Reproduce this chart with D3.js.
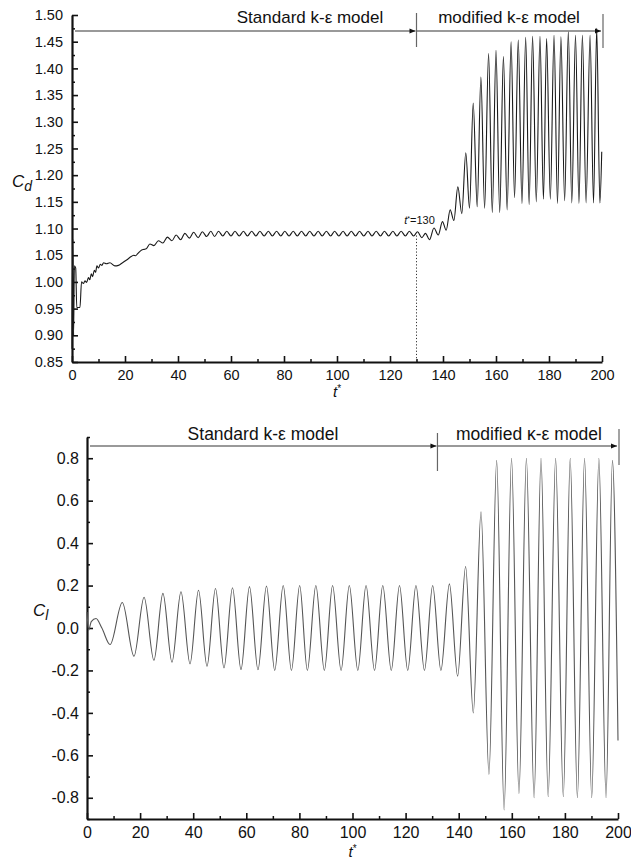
<!DOCTYPE html>
<html>
<head>
<meta charset="utf-8">
<script src="https://cdn.jsdelivr.net/npm/d3@7"></script>
<style>
  body { margin: 0; background: #fff; }
  text { font-family: "Liberation Sans", Arial, sans-serif; fill: #111; }
</style>
</head>
<body>
<svg id="chart" width="631" height="860"></svg>
<script>
// ---- Drag coefficient Cd (turning points of the time history) ----
const cdEarly = [
  [0,0.875],[0.3,1.08],[0.6,0.90],[0.9,1.03],[1.4,1.026],[1.8,0.952],[3.0,0.952],[3.6,1.0],
  [4.3,0.997],[4.9,1.002],[5.5,0.999],[6.2,1.008],[6.7,1.004],[7.3,1.015],[7.8,1.010],[8.4,1.022],
  [8.9,1.018],[9.4,1.030],[10.0,1.026],[10.7,1.033],[11.3,1.031],[11.9,1.036],[13.0,1.034],[14.3,1.036],
  [16.2,1.030],[17.5,1.031],[18.8,1.035],[20.6,1.041],[22.5,1.048],[23.3,1.050],[24.0,1.049],[24.8,1.053],
  [26.3,1.060],[27.2,1.061],[28.0,1.062],[29.4,1.071],[30.9,1.068],[32.6,1.077],[34.3,1.073],[36.0,1.084],
  [37.7,1.077],[39.3,1.088],[41.0,1.079],[42.6,1.091],[44.3,1.082],[45.9,1.093],[47.6,1.083],[49.2,1.094],
  [50.8,1.085],[52.4,1.095],[53.8,1.085]
];
const cdStandard = [
  [55.3,1.095],[56.9,1.086],[58.4,1.095],[60.0,1.086],[61.5,1.095],[63.1,1.086],[64.7,1.095],[66.2,1.086],
  [67.8,1.095],[69.4,1.086],[70.9,1.095],[72.5,1.086],[74.1,1.095],[75.6,1.086],[77.2,1.095],[78.8,1.086],
  [80.3,1.095],[81.9,1.086],[83.5,1.095],[85.0,1.086],[86.6,1.095],[88.2,1.086],[89.7,1.095],[91.3,1.086],
  [92.9,1.095],[94.4,1.086],[96.0,1.095],[97.6,1.086],[99.1,1.095],[100.7,1.086],[102.3,1.095],[103.8,1.086],
  [105.4,1.095],[107.0,1.086],[108.5,1.095],[110.1,1.086],[111.7,1.095],[113.2,1.086],[114.8,1.095],[116.4,1.086],
  [117.9,1.095],[119.5,1.086],[121.1,1.095],[122.6,1.086],[124.2,1.095],[125.8,1.086],[127.3,1.095],[128.9,1.086],
  [130.4,1.094]
];
const cdModified = [
  [132.0,1.083],[133.4,1.091],[134.9,1.079],[136.6,1.101],[138.2,1.088],[139.8,1.113],[141.2,1.097],[142.7,1.135],
  [144.1,1.115],[145.6,1.178],[147.1,1.128],[148.6,1.242],[150.0,1.138],[151.4,1.335],[152.9,1.141],[154.3,1.384],
  [155.7,1.138],[157.2,1.428],[158.6,1.130],[160.0,1.434],[161.4,1.130],[162.8,1.422],[164.2,1.135],[165.7,1.450],
  [167.0,1.158],[168.4,1.453],[169.8,1.147],[171.2,1.458],[172.5,1.145],[173.8,1.460],[175.2,1.150],[176.6,1.460],
  [177.9,1.155],[179.1,1.456],[180.5,1.155],[181.9,1.462],[183.2,1.147],[184.5,1.459],[185.9,1.152],[187.3,1.469],
  [188.6,1.148],[190.0,1.462],[191.3,1.147],[192.6,1.462],[194.0,1.148],[195.5,1.462],[196.8,1.148],[198.0,1.475],
  [199.2,1.148],[199.9,1.244]
];

// ---- Lift coefficient Cl (turning points of the time history) ----
const clStandard = [
  [0,0.075],[0.6,-0.01],[1.6,0.03],[3.4,0.045],[5.6,0.0],[8.7,-0.078],[13.3,0.12],[17.7,-0.133],
  [21.5,0.145],[25.2,-0.152],[28.6,0.163],[32.0,-0.161],[35.4,0.171],[38.8,-0.169],[42.0,0.178],[45.2,-0.18],
  [48.4,0.186],[51.6,-0.188],[54.8,0.19],[58.0,-0.196],[61.2,0.195],[64.4,-0.197],[67.6,0.198],[70.7,-0.2],
  [73.9,0.2],[77.0,-0.2],[80.1,0.2],[83.0,-0.2],[86.2,0.2],[89.4,-0.2],[92.5,0.2],[95.7,-0.2],
  [98.8,0.2],[102.0,-0.2],[105.1,0.2],[108.3,-0.2],[111.4,0.2],[114.6,-0.2],[117.7,0.2],[120.8,-0.2],
  [123.9,0.2],[127.1,-0.2],[130.2,0.2],[133.3,-0.2]
];
const clModified = [
  [136.5,0.208],[139.6,-0.227],[142.6,0.29],[145.5,-0.40],[148.4,0.548],[151.4,-0.69],[154.3,0.79],[157.1,-0.857],
  [159.9,0.80],[162.7,-0.78],[165.5,0.80],[168.4,-0.80],[171.0,0.80],[173.7,-0.795],[176.5,0.80],[179.4,-0.795],
  [182.0,0.80],[184.7,-0.80],[187.4,0.80],[190.1,-0.80],[192.8,0.80],[195.5,-0.80],[197.9,0.79],[200,-0.53]
];

// ---- Axis ticks and labels ----
const xTicks = [0,20,40,60,80,100,120,140,160,180,200];
const xMinor = [10,30,50,70,90,110,130,150,170,190];
const cdTicks = [0.85,0.90,0.95,1.00,1.05,1.10,1.15,1.20,1.25,1.30,1.35,1.40,1.45,1.50];
const cdMinor = [0.875,0.925,0.975,1.025,1.075,1.125,1.175,1.225,1.275,1.325,1.375,1.425,1.475];
const clTicks = [-0.8,-0.6,-0.4,-0.2,0.0,0.2,0.4,0.6,0.8];
const clMinor = [-0.9,-0.7,-0.5,-0.3,-0.1,0.1,0.3,0.5,0.7,0.9];
const topPhases = ["Standard k-\u03b5 model", "modified k-\u03b5 model"];
const bottomPhases = ["Standard k-\u03b5 model", "modified \u03ba-\u03b5 model"];
const topSwitch = 130;
const bottomSwitch = 132;

const svg = d3.select("#chart");

// arrow head marker
svg.append("defs").append("marker")
  .attr("id", "head").attr("viewBox", "0 0 10 10")
  .attr("refX", 10).attr("refY", 5)
  .attr("markerWidth", 8).attr("markerHeight", 6)
  .attr("markerUnits", "userSpaceOnUse")
  .attr("orient", "auto")
  .append("path").attr("d", "M0,1L10,5L0,9Z").attr("fill", "#111");

function drawPanel(o) {
  const g = svg.append("g");
  const x = o.x, y = o.y;
  const [x0, x1] = x.range();
  const [yb, yt] = y.range();

  // minor ticks
  g.append("g").attr("transform", `translate(0,${yb})`)
    .call(d3.axisBottom(x).tickValues(xMinor).tickSizeInner(-3).tickSizeOuter(0).tickFormat(""))
    .call(a => a.select(".domain").remove())
    .call(a => a.selectAll("line").attr("stroke", "#111").attr("stroke-width", 1.5));
  g.append("g").attr("transform", `translate(${x0},0)`)
    .call(d3.axisLeft(y).tickValues(o.yMinor).tickSizeInner(-3).tickSizeOuter(0).tickFormat(""))
    .call(a => a.select(".domain").remove())
    .call(a => a.selectAll("line").attr("stroke", "#111").attr("stroke-width", 1.5));

  // major x axis
  g.append("g").attr("transform", `translate(0,${yb})`)
    .call(d3.axisBottom(x).tickValues(xTicks).tickSizeInner(-6).tickSizeOuter(0).tickPadding(o.xPad))
    .call(a => a.select(".domain").attr("stroke", "#111").attr("stroke-width", 2))
    .call(a => a.selectAll("line").attr("stroke", "#111").attr("stroke-width", 1.6))
    .call(a => a.selectAll("text").attr("font-size", o.fs).attr("fill", "#111")
      .attr("font-family", '"Liberation Sans", Arial, sans-serif'));

  // major y axis
  g.append("g").attr("transform", `translate(${x0},0)`)
    .call(d3.axisLeft(y).tickValues(o.yTicks).tickSizeInner(-6).tickSizeOuter(0)
      .tickPadding(o.yPad).tickFormat(o.yFmt))
    .call(a => a.select(".domain").attr("stroke", "#111").attr("stroke-width", 2.2))
    .call(a => a.selectAll("line").attr("stroke", "#111").attr("stroke-width", 1.6))
    .call(a => a.selectAll("text").attr("font-size", o.fs).attr("fill", "#111")
      .attr("font-family", '"Liberation Sans", Arial, sans-serif'));

  // data line
  const line = d3.line().x(d => x(d[0])).y(d => y(d[1])).curve(d3.curveMonotoneX);
  g.append("path").datum(o.data).attr("d", line)
    .attr("fill", "none").attr("stroke", o.stroke).attr("stroke-width", o.sw)
    .attr("stroke-linejoin", "round");

  // phase arrows
  const xs = x(o.switchAt);
  const ay = o.arrowY;
  g.append("line").attr("x1", x0 + 3).attr("x2", xs - 1).attr("y1", ay).attr("y2", ay)
    .attr("stroke", "#777").attr("stroke-width", 1.4).attr("marker-end", "url(#head)");
  g.append("line").attr("x1", xs).attr("x2", x1 - 1).attr("y1", ay).attr("y2", ay)
    .attr("stroke", "#777").attr("stroke-width", 1.4).attr("marker-end", "url(#head)");
  g.append("line").attr("x1", xs).attr("x2", xs).attr("y1", o.bar1[0]).attr("y2", o.bar1[1])
    .attr("stroke", "#666").attr("stroke-width", 1.2);
  g.append("line").attr("x1", x1 + 1).attr("x2", x1 + 1).attr("y1", o.bar2[0]).attr("y2", o.bar2[1])
    .attr("stroke", "#666").attr("stroke-width", 1.2);
  g.append("text").attr("x", o.label1X).attr("y", o.labelY).attr("text-anchor", "middle")
    .attr("font-size", o.phaseFs).text(o.phases[0]);
  g.append("text").attr("x", o.label2X).attr("y", o.labelY).attr("text-anchor", "middle")
    .attr("font-size", o.phaseFs).text(o.phases[1]);

  // x axis title t*
  const tt = g.append("text").attr("x", (x0 + x1) / 2).attr("y", o.titleY)
    .attr("text-anchor", "middle").attr("font-size", 15);
  tt.append("tspan").attr("font-style", "italic").text("t");
  tt.append("tspan").attr("font-size", 10).attr("dy", -5).text("*");

  // y axis title
  const yt2 = g.append("text").attr("x", o.yTitle[0]).attr("y", o.yTitle[1]).attr("font-size", 17);
  yt2.append("tspan").attr("font-style", "italic").text("C");
  yt2.append("tspan").attr("font-style", "italic").attr("font-size", 14).attr("dy", 4).text(o.sub);
  return g;
}

const xTop = d3.scaleLinear().domain([0, 200]).range([72, 602]);
const yTop = d3.scaleLinear().domain([0.85, 1.50]).range([362, 15]);
const dragPanel = drawPanel({
  x: xTop, y: yTop, data: cdEarly.concat(cdStandard, cdModified),
  yTicks: cdTicks, yMinor: cdMinor, yFmt: d => d.toFixed(2),
  fs: 14.5, xPad: 8, yPad: 9, stroke: "#1a1a1a", sw: 1.1,
  switchAt: topSwitch, arrowY: 31, bar1: [13, 47], bar2: [14, 48],
  phases: topPhases, label1X: 310, label2X: 509, labelY: 23, phaseFs: 17,
  titleY: 397, yTitle: [12, 187], sub: "d"
});

// marker for the switch time on the drag history
dragPanel.append("line").attr("x1", xTop(topSwitch)).attr("x2", xTop(topSwitch))
  .attr("y1", yTop(1.087)).attr("y2", yTop(0.85))
  .attr("stroke", "#333").attr("stroke-width", 1).attr("stroke-dasharray", "1.2,2");
const ann = dragPanel.append("text").attr("x", xTop(topSwitch) + 3).attr("y", 224)
  .attr("text-anchor", "middle").attr("font-size", 11);
ann.append("tspan").attr("font-style", "italic").text("t");
ann.append("tspan").attr("font-size", 7).attr("dy", -3).text("*");
ann.append("tspan").attr("dy", 3).text("=" + topSwitch);

const xBot = d3.scaleLinear().domain([0, 200]).range([87, 618]);
const yBot = d3.scaleLinear().domain([-0.9, 0.9]).range([819, 437]);
drawPanel({
  x: xBot, y: yBot, data: clStandard.concat(clModified),
  yTicks: clTicks, yMinor: clMinor, yFmt: d => d.toFixed(1),
  fs: 16, xPad: 8, yPad: 8, stroke: "#555", sw: 1.1,
  switchAt: bottomSwitch, arrowY: 446, bar1: [433, 471], bar2: [429, 465],
  phases: bottomPhases, label1X: 263, label2X: 529, labelY: 440, phaseFs: 17.5,
  titleY: 857, yTitle: [33, 616], sub: "l"
});
</script>
</body>
</html>
